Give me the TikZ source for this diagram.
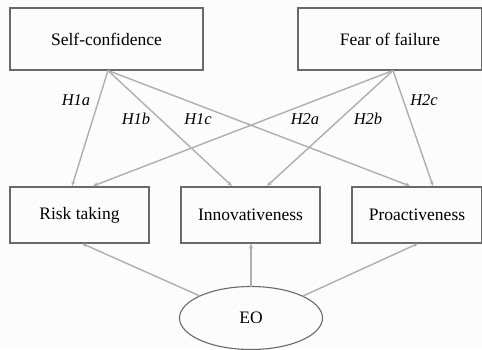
\documentclass[tikz,border=0pt]{standalone}
\usepackage{fontspec}
\setmainfont{Liberation Serif}
\usetikzlibrary{arrows.meta,shapes.geometric}
\definecolor{boxline}{RGB}{105,105,105}
\definecolor{arrline}{RGB}{175,175,175}
\definecolor{bg}{RGB}{252,252,252}
\begin{document}
\begin{tikzpicture}[x=1pt,y=-1pt,
  box/.style={draw=boxline,line width=1.1pt,minimum width=#1,minimum height=62pt,inner sep=0pt,font=\fontsize{17.5}{20}\selectfont},
  lbox/.style={draw=boxline,line width=1.1pt,minimum width=#1,minimum height=56pt,inner sep=0pt,font=\fontsize{17.5}{20}\selectfont},
  arr/.style={draw=arrline,line width=1.4pt,-{Stealth[length=5pt,width=4pt]}},
  hlab/.style={font=\itshape\fontsize{16.5}{19}\selectfont}]
\useasboundingbox[fill=bg] (0,0) rectangle (482,349);
\node[box=193pt] (sc) at (106.5,39) {Self-confidence};
\node[box=184pt] (ff) at (390,39) {Fear of failure};
\node[lbox=139pt] (rt) at (79.5,215) {Risk taking};
\node[lbox=139pt] (in) at (250.5,215) {Innovativeness};
\node[lbox=130pt] (pr) at (417,215) {Proactiveness};
\node[draw=boxline,line width=1.1pt,ellipse,minimum width=143pt,minimum height=63pt,inner sep=0pt,font=\fontsize{17.5}{20}\selectfont] (eo) at (251,318) {EO};
\coordinate (scb) at (108,70.5);
\coordinate (ffb) at (393,70.5);
\coordinate (rt1) at (72,186);
\coordinate (rt2) at (93,186);
\coordinate (in1) at (232,186);
\coordinate (in2) at (267,186);
\coordinate (pr1) at (410,186);
\coordinate (pr2) at (433,186);
\draw[arr] (scb) -- (rt1);
\draw[arr] (scb) -- (in1);
\draw[arr] (scb) -- (pr1);
\draw[arr] (ffb) -- (rt2);
\draw[arr] (ffb) -- (in2);
\draw[arr] (ffb) -- (pr2);
\coordinate (eo1) at (200,296);
\coordinate (eo2) at (251,287);
\coordinate (eo3) at (303,296);
\coordinate (rtb) at (82,243.5);
\coordinate (inb) at (251,243.5);
\coordinate (prb) at (418,243.5);
\draw[arr] (eo1) -- (rtb);
\draw[arr] (eo2) -- (inb);
\draw[arr] (eo3) -- (prb);
\node[hlab] (h1a) at (76,100) {H1a};
\node[hlab] (h1b) at (136,119) {H1b};
\node[hlab] (h1c) at (198,119) {H1c};
\node[hlab] (h2a) at (305,119) {H2a};
\node[hlab] (h2b) at (368,119) {H2b};
\node[hlab] (h2c) at (424,100) {H2c};
\end{tikzpicture}
\end{document}
